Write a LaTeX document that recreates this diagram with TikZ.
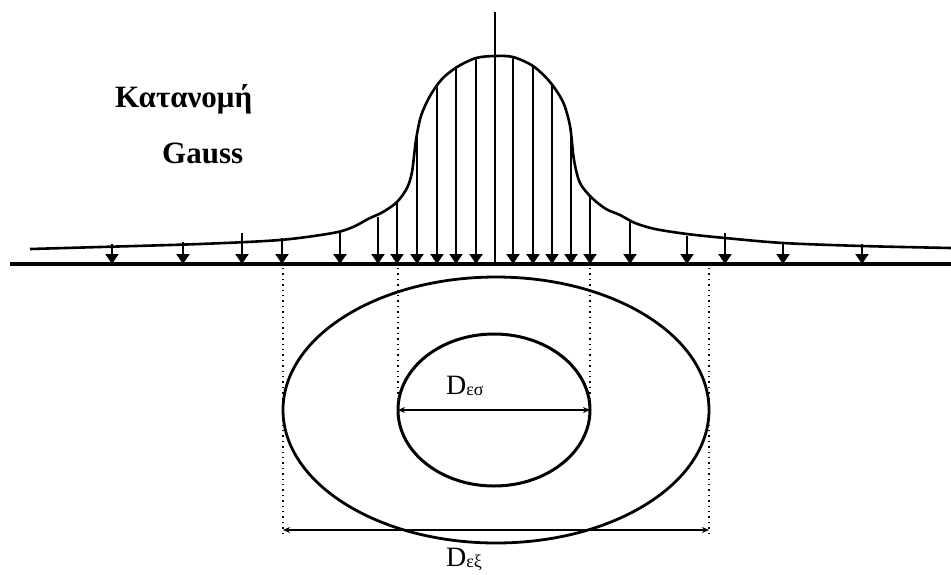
\documentclass[tikz,border=0pt]{standalone}
\usepackage{fontspec}
\setmainfont{Liberation Serif}
\usetikzlibrary{arrows.meta}
\begin{document}
\begin{tikzpicture}[x=1pt,y=-1pt,
  load/.style={line width=2pt,-{Triangle[width=13pt,length=10pt]}},
  dimline/.style={line width=2.4pt,{Stealth[length=7pt,width=6pt]}-{Stealth[length=7pt,width=6pt]}},
  guide/.style={line width=1.4pt,dash pattern=on 1.4pt off 4pt},
  lbl/.style={font=\fontsize{31}{34}\selectfont\bfseries,anchor=base west,inner sep=0pt},
  dlbl/.style={font=\fontsize{28}{30}\selectfont,anchor=base west,inner sep=0pt}]
\useasboundingbox (0,0) rectangle (951,574);
% ground line and axis
\coordinate (gl) at (10,264);
\coordinate (gr) at (951,264);
\draw[line width=3.4pt] (gl) -- (gr);
\coordinate (axt) at (495,12);
\coordinate (axb) at (495,264);
\draw[line width=2.2pt] (axt) -- (axb);
% gaussian curve
\draw[line width=2.6pt] plot[smooth,tension=0.5] coordinates {
 (30,249) (100,247) (200,244) (280,240) (333,233) (353,227) (368,219) (383,212)
 (397,202) (407,188) (412,172) (416,140) (421,116) (430,96) (442,79) (457,67)
 (476,58) (495,56) (513,57) (533,66) (550,82) (563,102) (570,126) (574,160)
 (580,183) (592,198) (606,209) (620,215) (635,223) (655,229) (687,234) (725,238)
 (783,243) (862,246) (951,248)};
% load arrows
\foreach \x/\y in {112/244,183/242,242/233,282/238,340/231,378/217,397/202,
  417/132,437/86,456/68,476/58,513/58,533/67,552/85,571/128,590/196,
  630/221,687/236,725/233,783/243,862/244}
  \draw[load] (\x,\y) -- (\x,264);
% ellipses
\coordinate (c) at (496,410);
\draw[line width=2.8pt] (c) ellipse [x radius=213, y radius=133];
\draw[line width=3pt] (494,410) ellipse [x radius=96, y radius=76];
% guides
\draw[guide] (283,268) -- (283,535);
\draw[guide] (709,268) -- (709,535);
\draw[guide] (398,268) -- (398,412);
\draw[guide] (590,268) -- (590,412);
% dimension lines
\coordinate (il) at (398,410);
\coordinate (ir) at (590,410);
\draw[dimline] (il) -- (ir);
\coordinate (ol) at (283,530);
\coordinate (or) at (709,530);
\draw[dimline] (ol) -- (or);
% labels
\node[lbl] (t1) at (115,107) {Κατανομή};
\node[lbl] (t2) at (162,163) {Gauss};
\node[dlbl] (d1) at (446,394) {D\raisebox{-1pt}{\fontsize{18}{18}\selectfont εσ}};
\node[dlbl] (d2) at (446,566) {D\raisebox{-1pt}{\fontsize{18}{18}\selectfont εξ}};
\end{tikzpicture}
\end{document}
